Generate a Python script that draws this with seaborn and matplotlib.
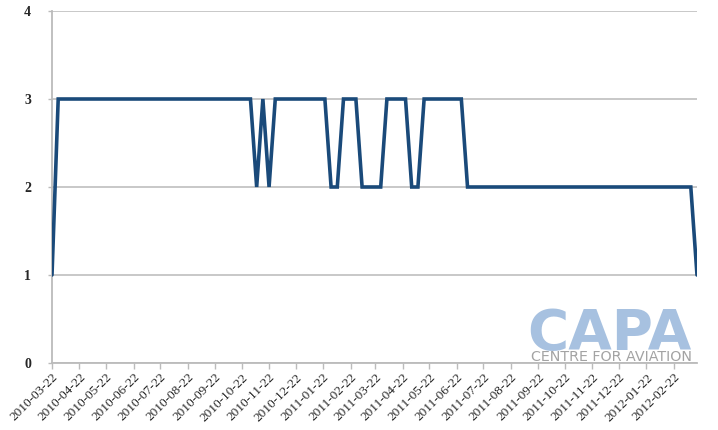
import pandas as pd
import matplotlib.pyplot as plt
import seaborn as sns

# weekly series, starting 2010-03-22
start_date = '2010-03-22'
values = [
    1,
    3, 3, 3, 3, 3, 3, 3, 3, 3, 3, 3, 3, 3, 3, 3, 3,
    3, 3, 3, 3, 3, 3, 3, 3, 3, 3, 3, 3, 3, 3, 3, 3,
    2, 3, 2,
    3, 3, 3, 3, 3, 3, 3, 3, 3,
    2, 2,
    3, 3, 3,
    2, 2, 2, 2,
    3, 3, 3, 3,
    2, 2,
    3, 3, 3, 3, 3, 3, 3,
    2, 2, 2, 2, 2, 2, 2, 2, 2, 2, 2, 2, 2, 2, 2, 2, 2, 2, 2,
    2, 2, 2, 2, 2, 2, 2, 2, 2, 2, 2, 2, 2, 2, 2, 2, 2, 2,
    1,
]
tick_labels = [
    '2010-03-22', '2010-04-22', '2010-05-22', '2010-06-22', '2010-07-22', '2010-08-22',
    '2010-09-22', '2010-10-22', '2010-11-22', '2010-12-22', '2011-01-22', '2011-02-22',
    '2011-03-22', '2011-04-22', '2011-05-22', '2011-06-22', '2011-07-22', '2011-08-22',
    '2011-09-22', '2011-10-22', '2011-11-22', '2011-12-22', '2012-01-22', '2012-02-22',
]
y_ticks = [0, 1, 2, 3, 4]

df = pd.DataFrame({
    'Date': pd.date_range(start_date, periods=len(values), freq='7D'),
    'Value': values,
})

sns.set_style('white')
plt.rcParams['font.family'] = ['Liberation Serif', 'DejaVu Serif']

fig = plt.figure(figsize=(7.18, 4.30), dpi=100)
ax = fig.add_axes([52 / 718, 67 / 430, 645 / 718, 352 / 430])

sns.lineplot(data=df, x='Date', y='Value', color='#1A4A7A', linewidth=2.6, ax=ax,
             solid_joinstyle='miter', zorder=3)

ax.set_xlim(df['Date'].iloc[0], df['Date'].iloc[-1])
ax.set_ylim(0, 4)
ax.set_yticks(y_ticks)
ax.set_yticklabels([str(v) for v in y_ticks], fontweight='bold', fontsize=10)
ax.set_xticks(pd.to_datetime(tick_labels))
ax.set_xticklabels(tick_labels, rotation=45, ha='right', rotation_mode='anchor', fontsize=9.5)
ax.set_xlabel('')
ax.set_ylabel('')

ax.grid(axis='y', color='#C4C4C4', linewidth=1.3)
ax.grid(axis='x', visible=False)
for s in ['top', 'right']:
    ax.spines[s].set_visible(False)
for s in ['left', 'bottom']:
    ax.spines[s].set_color('#BBBBBB')
    ax.spines[s].set_linewidth(1.3)
ax.tick_params(axis='x', direction='out', length=4, width=1, color='#BBBBBB', pad=2, bottom=True)
ax.tick_params(axis='y', direction='out', length=3, width=1, color='#BBBBBB', pad=12, left=True)

# logo
fig.text(692 / 718, (430 - 349) / 430, 'CAPA', ha='right', va='baseline',
         family='DejaVu Sans', fontweight='bold', fontsize=40.5, color='#A7C1E0')
fig.text(692 / 718, (430 - 361) / 430, 'CENTRE FOR AVIATION', ha='right', va='baseline',
         family='DejaVu Sans', fontsize=10.3, color='#A3A3A3')

plt.savefig('out.png', dpi=100)
